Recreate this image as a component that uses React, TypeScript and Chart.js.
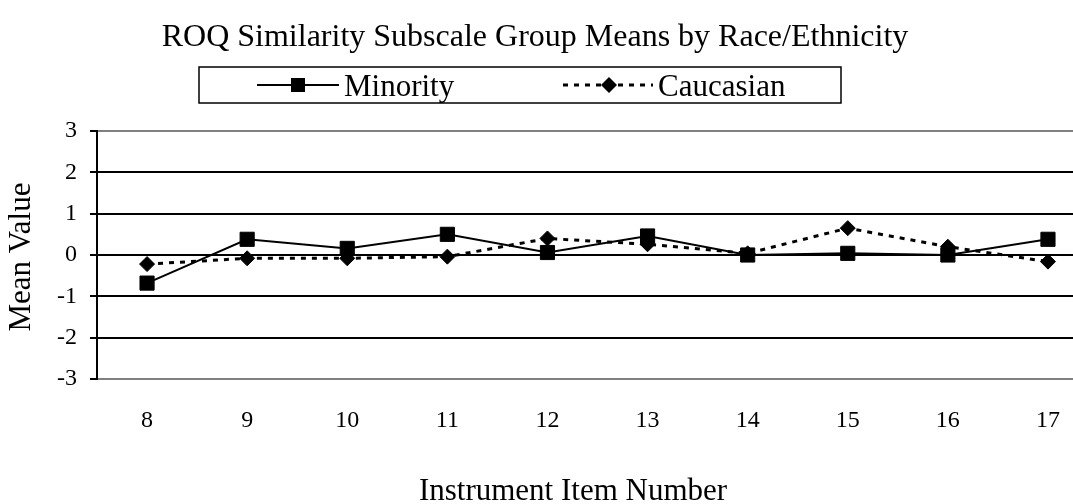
import React, { useEffect, useRef } from 'react';
import { Chart, registerables } from 'chart.js';

Chart.register(...registerables);

const categories = [8, 9, 10, 11, 12, 13, 14, 15, 16, 17];
const minority = [-0.68, 0.38, 0.16, 0.5, 0.06, 0.46, 0.0, 0.04, 0.0, 0.38];
const caucasian = [-0.22, -0.08, -0.08, -0.04, 0.4, 0.26, 0.04, 0.65, 0.2, -0.16];
const yTicks = [-3, -2, -1, 0, 1, 2, 3];
const seriesNames = ['Minority', 'Caucasian'];
const titleText = 'ROQ Similarity Subscale Group Means by Race/Ethnicity';
const xTitle = 'Instrument Item Number';
const yTitle = 'Mean Value';

const FONT = '"Liberation Serif", "Times New Roman", serif';

const decorPlugin = {
  id: 'decor',
  afterDraw(chart: any) {
    const ctx = chart.ctx as CanvasRenderingContext2D;
    ctx.save();
    ctx.fillStyle = '#000';
    ctx.strokeStyle = '#000';
    ctx.textBaseline = 'alphabetic';
    // Title
    ctx.font = `32px ${FONT}`;
    ctx.textAlign = 'center';
    ctx.fillText(titleText, 535, 46);

    // Legend box
    ctx.lineWidth = 1.5;
    ctx.strokeRect(199, 67, 642, 36);
    const ly = 85;
    // Minority sample
    ctx.lineWidth = 2;
    ctx.setLineDash([]);
    ctx.beginPath();
    ctx.moveTo(257, ly);
    ctx.lineTo(339, ly);
    ctx.stroke();
    ctx.fillRect(298 - 7, ly - 7, 14, 14);
    // Caucasian sample
    ctx.lineWidth = 3;
    ctx.setLineDash([5, 6]);
    ctx.beginPath();
    ctx.moveTo(563, ly);
    ctx.lineTo(653, ly);
    ctx.stroke();
    ctx.setLineDash([]);
    ctx.beginPath();
    ctx.moveTo(609, ly - 8);
    ctx.lineTo(617, ly);
    ctx.lineTo(609, ly + 8);
    ctx.lineTo(601, ly);
    ctx.closePath();
    ctx.fill();
    ctx.textAlign = 'left';
    ctx.font = `31px ${FONT}`;
    ctx.fillText(seriesNames[0], 344, 96);
    ctx.fillText(seriesNames[1], 658, 96);

    // X title
    ctx.textAlign = 'center';
    ctx.fillText(xTitle, 573, 500);

    // Y title
    ctx.save();
    ctx.translate(22, 257);
    ctx.rotate(-Math.PI / 2);
    ctx.textBaseline = 'middle';
    ctx.fillText(yTitle, 0, 0);
    ctx.restore();

    ctx.restore();
  },
};

export default function App() {
  const ref = useRef<HTMLCanvasElement | null>(null);

  useEffect(() => {
    if (!ref.current) return;
    const chart = new Chart(ref.current, {
      type: 'line',
      data: {
        datasets: [
          {
            label: seriesNames[0],
            data: categories.map((c, i) => ({ x: c, y: minority[i] })),
            borderColor: '#000',
            backgroundColor: '#000',
            borderWidth: 2,
            pointStyle: 'rect',
            pointRadius: 10,
            pointBorderWidth: 1,
            pointBackgroundColor: '#000',
            pointBorderColor: '#000',
            tension: 0,
          },
          {
            label: seriesNames[1],
            data: categories.map((c, i) => ({ x: c, y: caucasian[i] })),
            borderColor: '#000',
            backgroundColor: '#000',
            borderWidth: 3,
            borderDash: [5, 6],
            pointStyle: 'rectRot',
            pointRadius: 7.5,
            pointBorderWidth: 1,
            pointBackgroundColor: '#000',
            pointBorderColor: '#000',
            tension: 0,
          },
        ],
      },
      options: {
        responsive: false,
        animation: false,
        events: [],
        layout: { autoPadding: false, padding: { top: 131, left: 0, right: 0, bottom: 0 } },
        plugins: {
          legend: { display: false },
          title: { display: false },
          tooltip: { enabled: false },
        },
        scales: {
          x: {
            type: 'linear',
            min: 7.5,
            max: 17.25,
            afterBuildTicks: (s: any) => {
              s.ticks = categories.map((v) => ({ value: v }));
            },
            afterFit: (s: any) => {
              s.height = 125;
              s.paddingLeft = 0;
              s.paddingRight = 0;
            },
            grid: { display: false, drawTicks: false },
            border: { display: false },
            ticks: {
              font: { family: FONT, size: 24 },
              color: '#000',
              padding: 27,
              autoSkip: false,
              maxRotation: 0,
              callback: (v: any) => String(v),
            },
          },
          y: {
            type: 'linear',
            min: -3,
            max: 3,
            afterBuildTicks: (s: any) => {
              s.ticks = yTicks.map((v) => ({ value: v }));
            },
            afterFit: (s: any) => {
              s.width = 97;
              s.paddingTop = 0;
              s.paddingBottom = 0;
            },
            grid: {
              color: (c: any) => (c.tick && Math.abs(c.tick.value) === 3 ? '#808080' : '#000'),
              lineWidth: 2,
              tickLength: 7,
              tickColor: '#000',
            },
            border: { display: true, color: '#000', width: 2 },
            ticks: {
              font: { family: FONT, size: 24 },
              color: '#000',
              padding: 13,
            },
          },
        },
      },
      plugins: [decorPlugin],
    });
    return () => chart.destroy();
  }, []);

  return (
    <div style={{ position: 'fixed', left: 0, top: 0, width: 1073, height: 504, overflow: 'hidden', background: '#fff' }}>
      <canvas ref={ref} width={1073} height={504} style={{ display: 'block', width: 1073, height: 504 }} />
    </div>
  );
}
